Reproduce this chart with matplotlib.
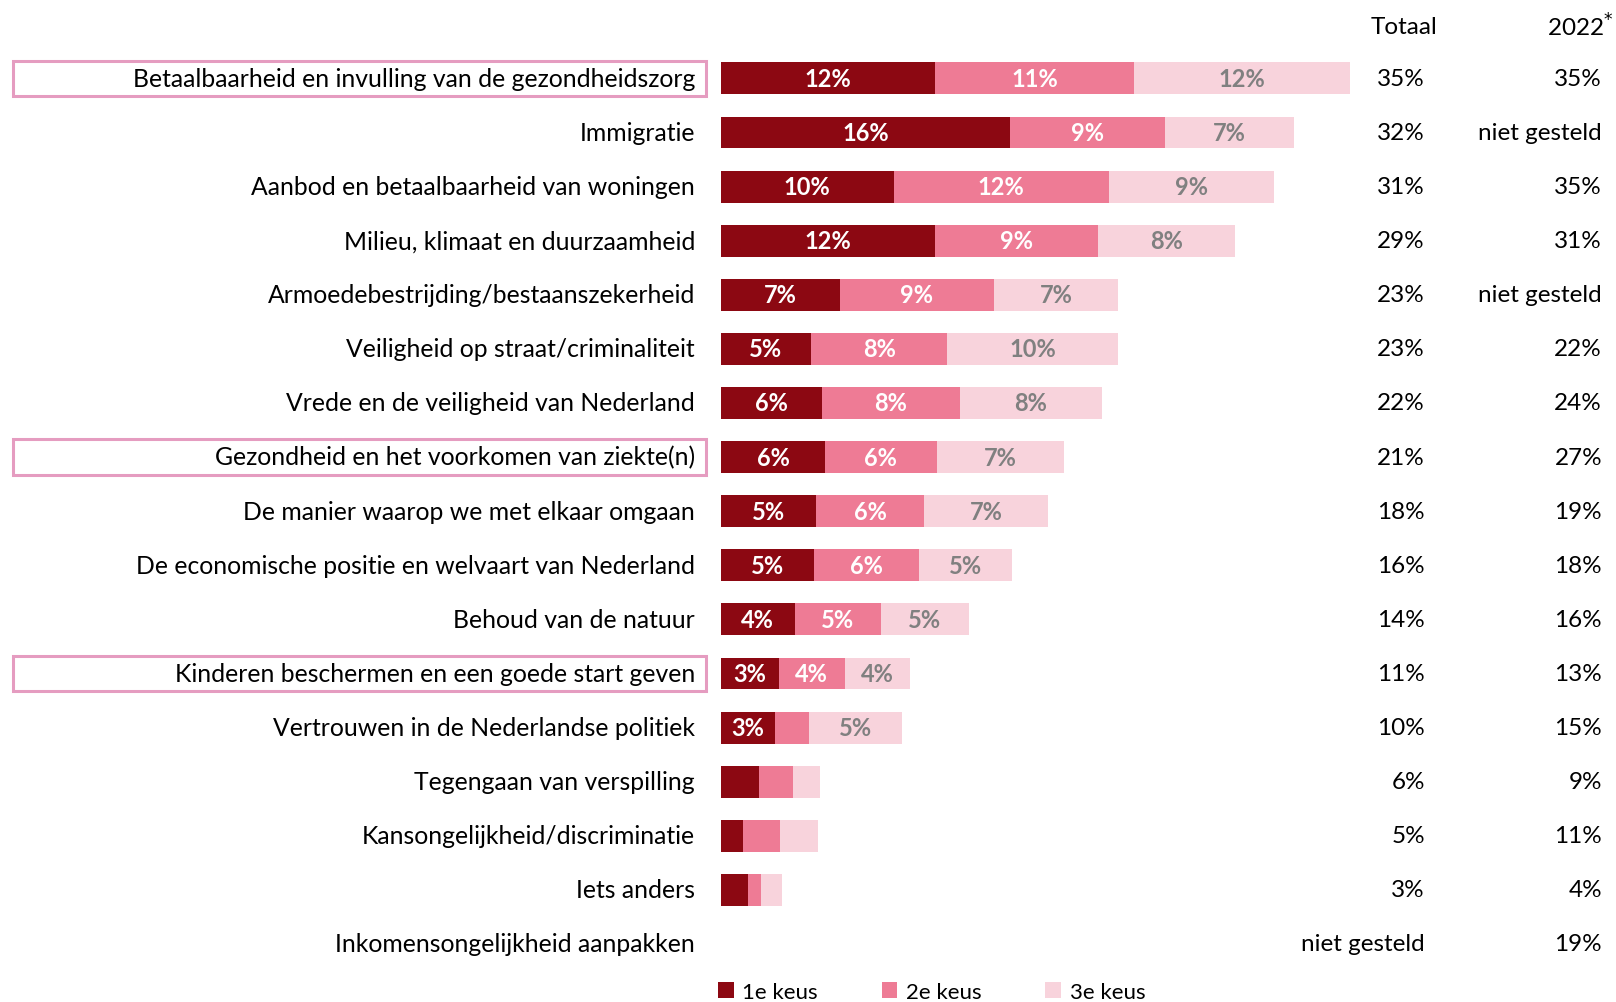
import matplotlib.pyplot as plt
import matplotlib.transforms as mtransforms
from matplotlib.patches import Rectangle

plt.rcParams['font.family'] = ['Lato', 'DejaVu Sans']

# onderwerpen (van boven naar beneden)
categories = [
    'Betaalbaarheid en invulling van de gezondheidszorg',
    'Immigratie',
    'Aanbod en betaalbaarheid van woningen',
    'Milieu, klimaat en duurzaamheid',
    'Armoedebestrijding/bestaanszekerheid',
    'Veiligheid op straat/criminaliteit',
    'Vrede en de veiligheid van Nederland',
    'Gezondheid en het voorkomen van ziekte(n)',
    'De manier waarop we met elkaar omgaan',
    'De economische positie en welvaart van Nederland',
    'Behoud van de natuur',
    'Kinderen beschermen en een goede start geven',
    'Vertrouwen in de Nederlandse politiek',
    'Tegengaan van verspilling',
    'Kansongelijkheid/discriminatie',
    'Iets anders',
    'Inkomensongelijkheid aanpakken',
]
keus1 = [11.9, 16.1, 9.6, 11.9, 6.6, 5.0, 5.6, 5.8, 5.3, 5.2, 4.1, 3.2, 3.0, 2.1, 1.2, 1.5, 0]
keus2 = [11.1, 8.6, 12.0, 9.1, 8.6, 7.6, 7.7, 6.2, 6.0, 5.8, 4.8, 3.7, 1.9, 1.9, 2.1, 0.75, 0]
keus3 = [12.0, 7.2, 9.2, 7.6, 6.9, 9.5, 7.9, 7.1, 6.9, 5.2, 4.9, 3.6, 5.2, 1.5, 2.1, 1.15, 0]
totaal = ['35%', '32%', '31%', '29%', '23%', '23%', '22%', '21%', '18%', '16%',
          '14%', '11%', '10%', '6%', '5%', '3%', 'niet gesteld']
jaar2022 = ['35%', 'niet gesteld', '35%', '31%', 'niet gesteld', '22%', '24%', '27%',
            '19%', '18%', '16%', '13%', '15%', '9%', '11%', '4%', '19%']
highlighted = [0, 7, 11]

series = [('1e keus', keus1, '#8C0812', 'white'),
          ('2e keus', keus2, '#EE7B95', 'white'),
          ('3e keus', keus3, '#F8D3DC', '#808080')]

W, H = 1616, 1003
fig = plt.figure(figsize=(W / 100, H / 100), dpi=100)

# assen: balken beginnen op x=721px, rijen op 79px + 54.1px per rij
x0, px_per_pct = 721, 17.97
row0, row_h = 79.4, 54.1
ax = fig.add_axes([x0 / W, 0, 1 - x0 / W, 1])
ax.set_xlim(0, (W - x0) / px_per_pct)
ax.set_ylim((H - row0) / row_h, -row0 / row_h)
ax.axis('off')

ypos = list(range(len(categories)))
left = [0] * len(categories)
for name, vals, color, tcolor in series:
    ax.barh(ypos, vals, left=left, height=0.59, color=color, label=name)
    for y, (l, v) in enumerate(zip(left, vals)):
        if v >= 2.5:
            ax.text(l + v / 2, y, f'{v:.0f}%', ha='center', va='center',
                    color=tcolor, fontsize=17, fontweight='bold')
    left = [a + b for a, b in zip(left, vals)]

trans = mtransforms.blended_transform_factory(fig.transFigure, ax.transData)
for y, cat in enumerate(categories):
    ax.text(695 / W, y, cat, transform=trans, ha='right', va='center', fontsize=17.8)
    ax.text(1425 / W, y, totaal[y], transform=trans, ha='right', va='center', fontsize=17.5)
    ax.text(1602 / W, y, jaar2022[y], transform=trans, ha='right', va='center', fontsize=17.5)

for y in highlighted:
    ax.add_patch(Rectangle((13 / W, y - 0.33), 693 / W, 0.66, transform=trans,
                           fill=False, edgecolor='#E59CC0', linewidth=2.2, clip_on=False))

fig.text(1404 / W, 1 - 27 / H, 'Totaal', ha='center', va='center', fontsize=17.5)
fig.text(1580 / W, 1 - 27 / H, '2022$^{*}$', ha='center', va='center', fontsize=17.5)

leg = fig.legend(loc='lower left', bbox_to_anchor=(698 / W, -20 / H), ncol=3,
                 frameon=False, fontsize=16, handlelength=0.7, handleheight=0.7,
                 handletextpad=0.4, columnspacing=2.86)

fig.savefig('out.png', dpi=100)
